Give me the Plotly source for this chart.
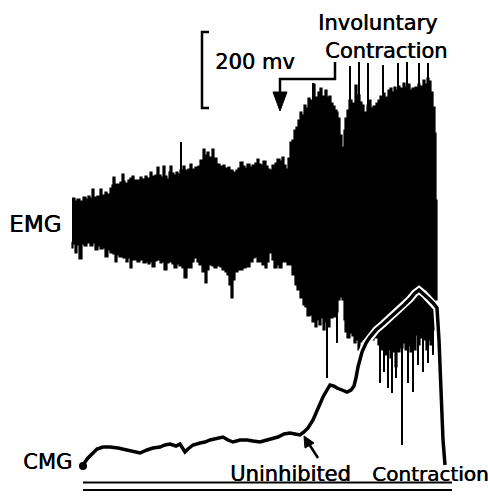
import plotly.graph_objects as go

# ---- EMG band outline, teeth included (image-row units, downward positive) ----
emg_upper_x = [72, 75, 77, 80, 83, 86, 88, 90, 92, 94, 97, 100, 102, 105, 107, 110, 112, 113, 115, 117,
               120, 122, 124, 125, 128, 130, 132, 134, 137, 140, 142, 145, 147, 150, 152, 155, 157, 159, 161, 163,
               165, 167, 169, 170, 172, 174, 176, 178, 180, 183, 185, 188, 190, 192, 195, 198, 200, 203, 205, 207,
               209, 212, 214, 217, 220, 223, 225, 228, 230, 233, 236, 238, 240, 243, 245, 247, 250, 252, 255, 257,
               259, 261, 263, 266, 268, 270, 272, 275, 277, 280, 282, 284, 286, 288, 290, 292, 294, 296, 298, 300,
               302, 304, 306, 308, 310, 313, 315, 318, 320, 322, 325, 327, 329, 331, 333, 335, 337, 338, 340, 342,
               344, 345, 347, 349, 352, 355, 357, 360, 362, 364, 366, 367, 369, 371, 373, 376, 378, 380, 383, 385,
               388, 390, 392, 394, 396, 398, 400, 403, 405, 407, 410, 412, 415, 418, 420, 423, 425, 427, 429, 431,
               433, 435, 436, 437]
emg_upper_y = [198, 201, 199, 201, 197, 199, 196, 198, 189, 197, 196, 189, 195, 192, 194, 188, 185, 177, 184, 184,
               182, 174, 181, 183, 180, 178, 176, 180, 180, 177, 179, 176, 178, 172, 176, 175, 167, 175, 177, 166,
               176, 179, 172, 166, 173, 175, 172, 174, 170, 166, 170, 169, 164, 169, 167, 166, 160, 149, 155, 152,
               157, 149, 158, 164, 166, 165, 168, 167, 170, 172, 170, 168, 162, 166, 168, 164, 167, 165, 163, 159,
               164, 165, 161, 166, 169, 170, 165, 163, 159, 161, 157, 165, 169, 158, 142, 140, 130, 127, 120, 112,
               115, 105, 108, 98, 100, 84, 97, 92, 88, 96, 90, 97, 96, 103, 106, 110, 112, 118, 135, 147,
               130, 118, 110, 100, 103, 85, 95, 102, 105, 112, 120, 105, 100, 108, 106, 103, 100, 96, 93, 97,
               90, 88, 92, 87, 90, 86, 88, 83, 87, 84, 90, 88, 87, 84, 86, 80, 84, 78, 81, 92,
               107, 133, 200, 280]
emg_lower_x = [72, 73, 75, 77, 79, 82, 84, 87, 90, 93, 95, 98, 100, 103, 105, 108, 110, 113, 115, 117,
               119, 121, 123, 126, 128, 130, 132, 134, 137, 140, 143, 146, 148, 150, 152, 155, 157, 160, 162, 164,
               167, 169, 172, 174, 177, 179, 182, 184, 187, 189, 192, 194, 197, 199, 202, 205, 207, 209, 212, 214,
               217, 220, 222, 225, 227, 229, 231, 233, 235, 238, 240, 243, 246, 250, 253, 255, 257, 260, 262, 265,
               267, 269, 272, 274, 277, 279, 282, 284, 287, 290, 292, 295, 297, 300, 303, 305, 307, 310, 312, 315,
               317, 319, 321, 323, 325, 327, 330, 333, 336, 338, 340, 342, 344, 345, 347, 350, 352, 354, 356, 358,
               360, 362, 364, 366, 368, 370, 374, 378, 380, 383, 385, 388, 390, 392, 395, 397, 400, 403, 405, 408,
               410, 413, 416, 418, 420, 423, 426, 428, 430, 432, 435, 437]
emg_lower_y = [242, 248, 244, 253, 245, 259, 244, 246, 243, 246, 243, 250, 246, 249, 248, 257, 250, 253, 254, 262,
               255, 257, 257, 258, 262, 258, 268, 260, 260, 262, 260, 263, 262, 264, 262, 267, 261, 260, 263, 262,
               270, 263, 262, 264, 268, 264, 266, 268, 278, 268, 268, 262, 258, 262, 265, 272, 283, 270, 265, 266,
               268, 266, 267, 270, 272, 275, 285, 298, 280, 272, 270, 270, 268, 267, 262, 258, 257, 262, 262, 265,
               268, 262, 253, 260, 268, 265, 268, 262, 262, 265, 265, 275, 285, 290, 298, 305, 307, 316, 315, 322,
               327, 320, 325, 318, 330, 322, 327, 318, 317, 312, 300, 297, 300, 320, 332, 338, 333, 336, 343, 340,
               350, 342, 340, 345, 340, 338, 340, 338, 345, 350, 345, 355, 350, 358, 352, 367, 352, 348, 343, 350,
               346, 352, 350, 335, 345, 338, 340, 350, 340, 345, 330, 300]

# long thin needles above the band (x, tip)
needle_up_x = [181, 313, 350, 359, 368, 383, 398, 407, 419, 428]
needle_up_tip = [142, 83, 66, 62, 63, 65, 63, 62, 63, 63]

# long thin needles below the band (x, tip)
needle_down_x = [327, 337, 380, 384, 388, 392, 396, 402, 408, 413, 418, 423, 428, 433]
needle_down_tip = [378, 343, 383, 372, 388, 393, 378, 445, 383, 392, 365, 372, 363, 355]

# ---- CMG trace ----
cmg_x = [83, 85, 88, 92, 97, 103, 110, 118, 127, 134, 140, 147, 153, 160, 165, 170, 176, 180, 183, 185,
         188, 193, 200, 205, 210, 216, 223, 228, 233, 240, 247, 253, 260, 267, 273, 278, 284, 290, 295, 300,
         304, 308, 313, 317, 320, 323, 327, 330, 334, 337, 342, 347, 351, 354, 356, 358, 362, 366, 370, 376,
         383, 390, 397, 404, 410, 415, 419, 424, 429, 433, 437, 439, 441, 443, 445]
cmg_y = [466, 462, 458, 454, 449, 447, 447, 448, 450, 452, 453, 450, 448, 447, 445, 444, 446, 444, 448, 452,
         449, 445, 443, 442, 440, 439, 437, 440, 442, 440, 440, 441, 442, 440, 438, 437, 434, 433, 434, 435,
         432, 428, 420, 410, 404, 397, 390, 385, 386, 388, 390, 392, 390, 386, 378, 367, 352, 343, 337, 330,
         324, 318, 311, 305, 299, 293, 290, 294, 299, 303, 308, 340, 400, 440, 465]

EMG_MID = 222  # interior row of the band that each needle is anchored to

fig = go.Figure()

poly_x = emg_upper_x + emg_lower_x[::-1]
poly_y = emg_upper_y + emg_lower_y[::-1]
fig.add_trace(go.Scatter(x=poly_x, y=poly_y, mode="lines", fill="toself", fillcolor="black",
                         line=dict(color="black", width=1.2, shape="hv"), hoverinfo="skip"))

sx, sy = [], []
for x, t in zip(needle_up_x, needle_up_tip):
    sx += [x, x, None]
    sy += [t, EMG_MID, None]
for x, t in zip(needle_down_x, needle_down_tip):
    sx += [x, x, None]
    sy += [t, EMG_MID, None]
fig.add_trace(go.Scatter(x=sx, y=sy, mode="lines", line=dict(color="black", width=2), hoverinfo="skip"))

# CMG: white halo then black trace
fig.add_trace(go.Scatter(x=cmg_x, y=cmg_y, mode="lines", line=dict(color="white", width=7.5), hoverinfo="skip"))
fig.add_trace(go.Scatter(x=cmg_x, y=cmg_y, mode="lines", line=dict(color="black", width=3.5), hoverinfo="skip"))
fig.add_trace(go.Scatter(x=cmg_x[:1], y=cmg_y[:1], mode="markers",
                         marker=dict(color="black", size=8), hoverinfo="skip"))

shapes = [
    dict(type="path", path="M 209 32 L 202 32 L 202 108 L 209 108", line=dict(color="black", width=2.5)),
    dict(type="path", path="M 335 62 L 335 79 L 280 79 L 280 95", line=dict(color="black", width=2.5)),
    dict(type="path", path="M 273 92 L 287 92 L 280 111 Z", fillcolor="black", line=dict(color="black", width=1)),
    dict(type="line", x0=318, y0=458, x1=309, y1=444, line=dict(color="black", width=2.5)),
    dict(type="path", path="M 304 436 L 314 443 L 305 448 Z", fillcolor="black", line=dict(color="black", width=1)),
    dict(type="line", x0=83, y0=482.5, x1=452, y1=482.5, line=dict(color="black", width=2)),
    dict(type="line", x0=83, y0=490, x1=452, y1=490, line=dict(color="black", width=2)),
]

font = "DejaVu Sans"
ann = [
    dict(text="EMG", x=35, y=224, size=23),
    dict(text="CMG", x=47, y=462, size=21),
    dict(text="200 mv", x=255, y=62, size=21),
    dict(text="Involuntary", x=377, y=23, size=21),
    dict(text="Contraction", x=386, y=51, size=21),
    dict(text="Uninhibited", x=290, y=474, size=21),
    dict(text="Contraction", x=430, y=474, size=20),
]
annotations = [dict(text=a["text"], x=a["x"], y=a["y"], xref="x", yref="y", showarrow=False,
                    xanchor="center", yanchor="middle",
                    font=dict(family=font, size=a["size"], color="black",
                              shadow="0.6px 0px 0px black")) for a in ann]

fig.update_layout(
    width=488, height=496, margin=dict(l=0, r=0, t=0, b=0),
    paper_bgcolor="white", plot_bgcolor="white", showlegend=False,
    xaxis=dict(range=[0, 488], visible=False, fixedrange=True),
    yaxis=dict(range=[496, 0], visible=False, fixedrange=True),
    shapes=shapes, annotations=annotations,
)

fig.write_html("out.html")
